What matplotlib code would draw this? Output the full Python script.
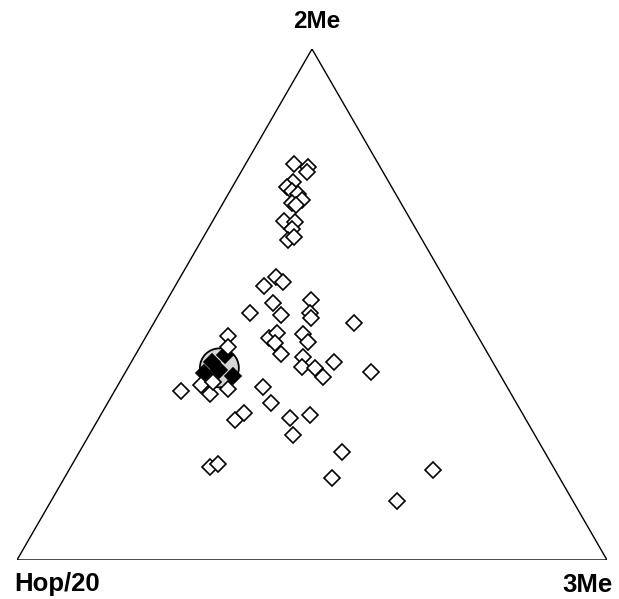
import numpy as np
import matplotlib
matplotlib.use("Agg")
import matplotlib.pyplot as plt
from matplotlib.patches import Circle

# ternary compositions in % (Hop/20 is the remainder)
me2_open = [77.5, 76.9, 75.9, 74.0, 73.0, 72.2, 71.6, 70.5, 69.9, 69.5, 66.3, 66.1, 64.8, 62.6, 63.2,
            53.6, 55.4, 54.4, 50.3, 48.3, 47.9, 50.9, 48.3, 47.4, 46.4, 43.4, 44.4, 42.5, 40.3, 44.2,
            42.7, 39.7, 37.8, 37.6, 35.8, 38.8, 36.8,
            43.8, 41.7, 33.1, 34.3, 32.5, 33.5, 34.8,
            33.9, 30.7, 27.4, 28.8, 27.8, 28.4, 24.5, 21.1, 18.2, 18.8, 16.1, 17.6, 11.6]
me3_open = [8.2, 10.9, 11.2, 9.8, 9.3, 10.5, 11.8, 13.1, 11.7, 12.6, 12.1, 14.0, 14.2, 14.6, 15.3,
            15.1, 16.2, 17.9, 18.2, 15.3, 20.8, 24.4, 25.5, 26.2, 33.9, 21.0, 21.9, 22.5, 24.6, 26.4,
            28.0, 28.6, 29.4, 31.7, 34.0, 34.4, 41.6,
            13.8, 14.9, 11.3, 14.1, 16.5, 19.0, 15.8,
            24.8, 27.7, 23.3, 24.1, 32.4, 35.5, 34.6, 44.5, 23.6, 24.7, 45.4, 61.7, 58.6]

me2_fill = [40.1, 38.7, 36.6, 36.0, 37.2]
me3_fill = [15.2, 13.7, 13.4, 18.6, 15.7]

# mean composition marked by the circle
me2_mean, me3_mean = 37.6, 15.5

H = np.sqrt(3) / 2


def to_xy(me2, me3):
    c = np.asarray(me2) / 100.0
    b = np.asarray(me3) / 100.0
    return b + c / 2, c * H


fig = plt.figure(figsize=(6.19, 5.99), dpi=100)
ax = fig.add_axes([17 / 619, 39 / 599, 590 / 619, 511 / 599])
ax.set_xlim(0, 1); ax.set_ylim(0, H)
ax.axis("off")

ax.plot([0, 1, 0.5, 0], [0, 0, H, 0], color="black", lw=1.0, solid_joinstyle="miter")

cx, cy = to_xy(me2_mean, me3_mean)
ax.add_patch(Circle((cx, cy), 0.033, facecolor="#d6d6d6", edgecolor="black", lw=1.3, zorder=2))

x, y = to_xy(me2_fill, me3_fill)
ax.plot(x, y, "D", ms=8.0, mfc="black", mec="black", mew=1.2, ls="none", zorder=3)
x, y = to_xy(me2_open, me3_open)
ax.plot(x, y, "D", ms=8.0, mfc="white", mec="black", mew=1.2, ls="none", zorder=4)

font = dict(family=["Liberation Sans", "DejaVu Sans"], weight="bold")
fig.text(317 / 619, 1 - 22 / 599, "2Me", ha="center", va="center", fontsize=17.5, **font)
fig.text(14 / 619, 1 - 584 / 599, "Hop/20", ha="left", va="center", fontsize=18.5, **font)
fig.text(613 / 619, 1 - 585 / 599, "3Me", ha="right", va="center", fontsize=18.5, **font)

fig.savefig("out.png", dpi=100)
